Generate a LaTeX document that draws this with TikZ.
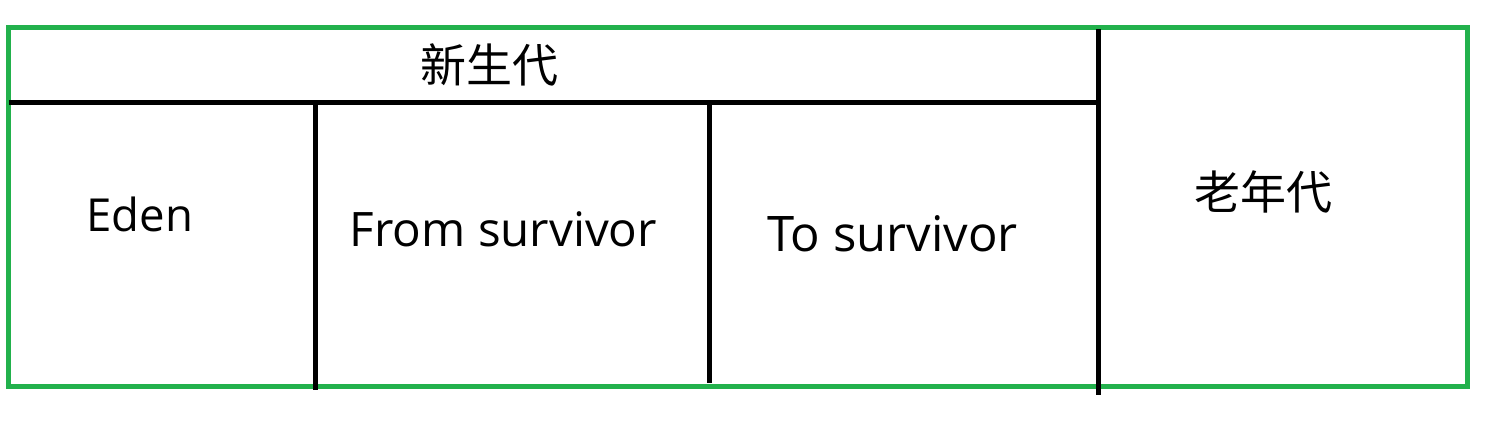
\documentclass[tikz,border=0pt]{standalone}
\usepackage{fontspec}
\setmainfont{Open Sans}
\newfontfamily\cjk{Noto Sans CJK SC}
\definecolor{boxgreen}{HTML}{22B14C}
\tikzset{
  frame/.style={draw=boxgreen, line width=5pt},
  divider/.style={draw=black, line width=5pt},
  cjklabel/.style={font=\cjk\fontsize{46}{50}\selectfont, inner sep=0pt, anchor=center},
  latlabel/.style={inner sep=0pt, anchor=base},
}
\begin{document}
\begin{tikzpicture}[x=1pt,y=-1pt]
\useasboundingbox (0,0) rectangle (1485,424);
\draw[frame] (8.5,27.5) rectangle (1467.5,386.5);
\coordinate (hL) at (9,102.5);
\coordinate (hR) at (1098.5,102.5);
\coordinate (v1t) at (315.5,101);
\coordinate (v1b) at (315.5,390);
\coordinate (v2t) at (709.5,101);
\coordinate (v2b) at (709.5,383);
\coordinate (v3t) at (1098.5,29);
\coordinate (v3b) at (1098.5,395);
\draw[divider] (hL) -- (hR);
\draw[divider] (v1t) -- (v1b);
\draw[divider] (v2t) -- (v2b);
\draw[divider] (v3t) -- (v3b);
\node[cjklabel] (young) at (489,65) {新生代};
\node[cjklabel] (old) at (1263,192) {老年代};
\node[latlabel, font=\fontsize{45.5}{50}\selectfont] (eden) at (140,231.7) {Eden};
\node[latlabel, font=\fontsize{47.5}{52}\selectfont] (from) at (503.5,246.7) {From survivor};
\node[latlabel, font=\fontsize{49}{54}\selectfont] (to) at (892.5,251.7) {To survivor};
\end{tikzpicture}
\end{document}
